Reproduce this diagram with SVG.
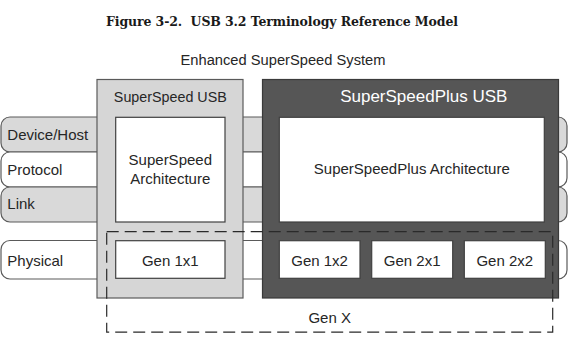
<svg xmlns="http://www.w3.org/2000/svg" width="576" height="340" viewBox="0 0 576 340">
<style>
  .lbl{font-family:"Liberation Sans",Arial,sans-serif;font-size:15px;fill:#262626}
  .ctr{text-anchor:middle}
  .band{stroke:#5a5a5a;stroke-width:1.2}
  .grey{fill:#d9d9d9}
  .white{fill:#ffffff}
  .inner{fill:#ffffff;stroke:#404040;stroke-width:1.2}
</style>
<rect width="576" height="340" fill="#ffffff"/>
<text x="106" y="26" xml:space="preserve" textLength="352" font-family="'DejaVu Serif',serif" font-weight="bold" font-size="12.5" fill="#1a1a1a">Figure 3-2.  USB 3.2 Terminology Reference Model</text>
<text class="lbl ctr" x="283" y="65" style="font-size:14.7px">Enhanced SuperSpeed System</text>

<g id="layers">
  <g id="device-host"><rect class="band grey" x="1" y="117" width="566" height="35" rx="9"/></g>
  <g id="protocol"><rect class="band white" x="1" y="152" width="566" height="35" rx="9"/></g>
  <g id="link"><rect class="band grey" x="1" y="187" width="566" height="35" rx="9"/></g>
  <g id="physical"><rect class="band white" x="1" y="240.5" width="566" height="38.5" rx="9"/></g>
</g>

<g id="superspeed-usb">
  <rect x="97" y="79.5" width="146" height="218.5" fill="#d6d6d6" stroke="#5a5a5a" stroke-width="1.2"/>
  <text class="lbl ctr" x="170.3" y="102.3" style="font-size:14.3px">SuperSpeed USB</text>
</g>
<g id="superspeedplus-usb">
  <rect x="262.5" y="79.5" width="296" height="218.5" fill="#565656" stroke="#3a3a3a" stroke-width="1.2"/>
  <text class="lbl ctr" x="423.8" y="102.3" style="font-size:17px;fill:#ffffff">SuperSpeedPlus USB</text>
</g>

<g id="superspeed-architecture">
  <rect class="inner" x="115.7" y="117.3" width="109.3" height="104.7"/>
  <text class="lbl ctr" x="170.3" y="165">SuperSpeed</text>
  <text class="lbl ctr" x="170.3" y="184">Architecture</text>
</g>
<g id="gen-1x1">
  <rect class="inner" x="115.7" y="240.7" width="109.3" height="37.6"/>
  <text class="lbl ctr" x="170.3" y="265.7">Gen 1x1</text>
</g>
<g id="superspeedplus-architecture">
  <rect class="inner" x="279.3" y="117.3" width="265" height="104.7"/>
  <text class="lbl ctr" x="411.8" y="174">SuperSpeedPlus Architecture</text>
</g>
<g id="gen-1x2">
  <rect class="inner" x="279.3" y="240.7" width="80.7" height="37.6"/>
  <text class="lbl ctr" x="319.6" y="265.7">Gen 1x2</text>
</g>
<g id="gen-2x1">
  <rect class="inner" x="371.7" y="240.7" width="81" height="37.6"/>
  <text class="lbl ctr" x="412.2" y="265.7">Gen 2x1</text>
</g>
<g id="gen-2x2">
  <rect class="inner" x="464.3" y="240.7" width="81" height="37.6"/>
  <text class="lbl ctr" x="504.8" y="265.7">Gen 2x2</text>
</g>

<g id="gen-x">
  <rect x="106.7" y="231.7" width="446" height="100.5" fill="none" stroke="#2a2a2a" stroke-width="1.2" stroke-dasharray="12 6"/>
  <text class="lbl ctr" x="329.7" y="323">Gen X</text>
</g>

<g id="layer-labels">
  <text class="lbl" x="7.3" y="140">Device/Host</text>
  <text class="lbl" x="7.3" y="175">Protocol</text>
  <text class="lbl" x="7.3" y="209">Link</text>
  <text class="lbl" x="7.3" y="265.7">Physical</text>
</g>
<g id="connectors"></g>
</svg>
